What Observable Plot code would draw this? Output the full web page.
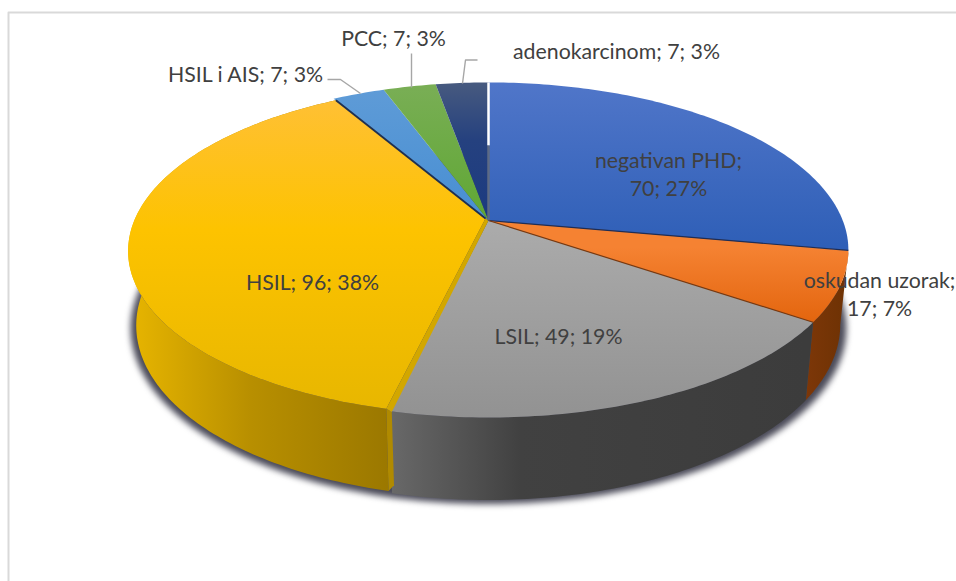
<!DOCTYPE html>
<html>
<head>
<meta charset="utf-8">
<script src="https://cdn.jsdelivr.net/npm/d3@7"></script>
<script src="https://cdn.jsdelivr.net/npm/@observablehq/plot@0.6"></script>
<style>html,body{margin:0;padding:0;background:#fff}svg{display:block}</style>
</head>
<body>
<div id="chart"></div>
<script>
// Data
const categories = ["negativan PHD", "oskudan uzorak", "LSIL", "HSIL", "HSIL i AIS", "PCC", "adenokarcinom"];
const counts = [70, 17, 49, 96, 7, 7, 7];
const percents = [27, 7, 19, 38, 3, 3, 3];

// Layout of the perspective disc
const W = 956, H = 581;
const topPlane = {x0: 488, k: 355, a: 222, b: -126.6, c: 0.164, sx: 0};
const botPlane = {x0: 488, k: 347, a: 295, b: -122.6, c: 0.164, sx: 0};
const topYellow = {...topPlane, sx: 3, b: topPlane.b + 2};
const botYellow = {...botPlane, sx: 3, b: botPlane.b + 2};
const apex = {x: 488, y: 220};
const apexYellow = {x: 485, y: 218};
const total = d3.sum(counts);
const cum = d3.cumsum(counts);
const angle = (n) => (n / total) * 2 * Math.PI;
const project = (p, t, dx = 0, dy = 0) => {
  const u = Math.sin(t), v = Math.cos(t), w = 1 + p.c * v;
  return {x: p.x0 + (p.k * u + p.sx * v) / w + dx, y: (p.a + p.b * v) / w + dy};
};
const arc = (p, t0, t1, dx = 0, dy = 0) => {
  const n = Math.max(2, Math.ceil(Math.abs(t1 - t0) * 60));
  return d3.range(n + 1).map((i) => project(p, t0 + ((t1 - t0) * i) / n, dx, dy));
};
const bounds = categories.map((_, i) => [angle(i ? cum[i - 1] : 0), angle(cum[i])]);
const isYellow = (i) => i === 3;

const sector = (i) => {
  const [t0, t1] = bounds[i];
  return [isYellow(i) ? apexYellow : apex, ...arc(isYellow(i) ? topYellow : topPlane, t0, t1)];
};
const wall = (i) => {
  const [t0, t1] = bounds[i];
  return [...arc(isYellow(i) ? topYellow : topPlane, t0, t1), ...arc(isYellow(i) ? botYellow : botPlane, t1, t0)];
};

const topGrad = [
  [82, "#5076c9", 245, "#2f5fb7"],
  [247, "#f58232", 322, "#e3650e"],
  [222, "#ababab", 417, "#929292"],
  [100, "#ffc034", 230, "#fdc300", 405, "#e8b700"],
  [90, "#5e9bd7", 222, "#478ed2"],
  [85, "#79ae55", 222, "#5fa733"],
  [84, "#46597f", 140, "#25417f", 222, "#1b3a80"]
];
const wallGrad = [
  [0, "#2a4a8a", 1, "#2a4a8a"],
  [805, "#7d3708", 845, "#6e3204"],
  [392, "#686868", 520, "#414141", 805, "#3c3c3c"],
  [133, "#e6b400", 250, "#b88f00", 388, "#9b7800"],
  [0, "#3a6ea5", 1, "#3a6ea5"],
  [0, "#4a7a30", 1, "#4a7a30"],
  [0, "#16305f", 1, "#16305f"]
];
const defs = () => {
  const d = d3.create("svg:defs");
  const add = (id, stops, horizontal) => {
    const lo = stops[0], hi = stops[stops.length - 2];
    const g = d.append("linearGradient").attr("id", id).attr("gradientUnits", "userSpaceOnUse");
    if (horizontal) g.attr("x1", lo).attr("x2", hi).attr("y1", 0).attr("y2", 0);
    else g.attr("x1", 0).attr("x2", 0).attr("y1", lo).attr("y2", hi);
    for (let j = 0; j < stops.length; j += 2)
      g.append("stop").attr("offset", (stops[j] - lo) / (hi - lo)).attr("stop-color", stops[j + 1]);
  };
  topGrad.forEach((s, i) => add("top" + i, s, false));
  wallGrad.forEach((s, i) => add("wall" + i, s, true));
  return d.node();
};

const shape = (pts, fill, extra = {}) =>
  Plot.line(pts, {x: "x", y: "y", fill, stroke: "none", ...extra});
const edge = (pts, stroke, strokeWidth) =>
  Plot.line(pts, {x: "x", y: "y", stroke, strokeWidth, strokeLinecap: "butt"});

const labelAt = [[668, 173], [879, 293], [558, 335], [312, 281], [245, 73], [393, 37], [616, 50]];
const labels = categories.map((c, i) => {
  const text = i < 2 ? `${c};\n${counts[i]}; ${percents[i]}%` : `${c}; ${counts[i]}; ${percents[i]}%`;
  return {text, x: labelAt[i][0], y: labelAt[i][1]};
});
const leaders = [
  [{x: 327, y: 79}, {x: 340, y: 79}, {x: 360, y: 93}],
  [{x: 411, y: 53}, {x: 411, y: 87}],
  [{x: 477, y: 59.5}, {x: 465, y: 59.5}, {x: 462, y: 83}]
];

const [t1, t2, t3, t4] = [bounds[0][1], bounds[1][1], bounds[2][1], bounds[3][1]];
const yCorner = project(topYellow, t3), gCorner = project(topPlane, t3, 2, 1);
const yBase = project(botYellow, t3), gBase = project(botPlane, t3, 2, -8);

const chart = Plot.plot({
  width: W, height: H, margin: 0,
  x: {domain: [0, W], range: [0, W], axis: null},
  y: {domain: [0, H], range: [0, H], axis: null},
  style: {background: "#fff"},
  marks: [
    defs,
    // frame
    edge([{x: 8, y: H}, {x: 8, y: 12}, {x: W, y: 12}], "#d9d9d9", 2),
    // soft shadow beneath the disc
    shape(arc({...botPlane, k: botPlane.k + 6}, 0, 2 * Math.PI, 0, 4), "#4a4a58", {imageFilter: "blur(3px)"}),
    // side walls, back to front
    shape(wall(1), "url(#wall1)"),
    shape(wall(2), "url(#wall2)"),
    shape(wall(3), "url(#wall3)"),
    shape([yCorner, gCorner, gBase, yBase], "#b08a00"),
    // top surfaces
    ...[0, 1, 2, 3, 4, 5, 6].map((i) => shape(sector(i), `url(#top${i})`)),
    // seam between the yellow wedge and the grey one
    shape([apexYellow, yCorner, gCorner, apex], "#d2a700"),
    // slice borders
    edge([apex, project(topPlane, t1)], "#1f2d55", 1.2),
    edge([apex, project(topPlane, t2)], "#7a3a10", 1.2),
    edge([apexYellow, project(topYellow, t4)], "#1f3050", 1.8),
    edge([project(topPlane, 0), {x: 488, y: 145}], "#fff", 2.5),
    edge([{x: 488, y: 145}, apex], "#5c6a85", 2.5),
    // leader lines
    ...leaders.map((l) => edge(l, "#a6a6a6", 1.4)),
    // labels
    Plot.text(labels, {
      x: "x", y: "y", text: "text",
      fontFamily: "Lato", fontSize: 21.3, fill: "#404040",
      lineHeight: 1.31, textAnchor: "middle"
    })
  ]
});
document.getElementById("chart").append(chart);
</script>
</body>
</html>
